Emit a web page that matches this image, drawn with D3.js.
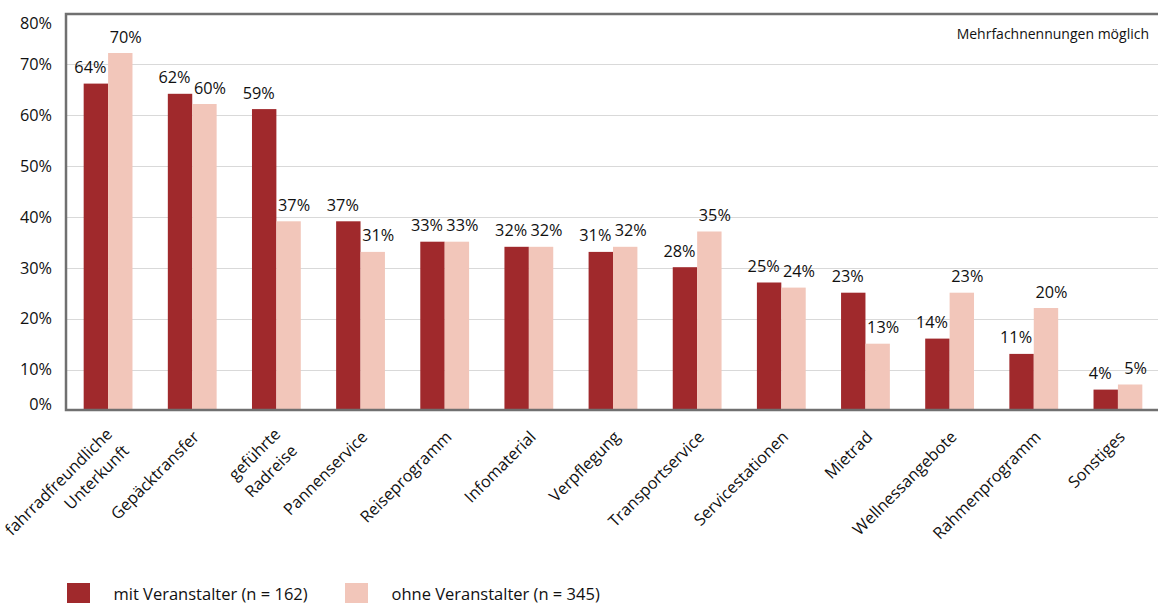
<!DOCTYPE html>
<html>
<head>
<meta charset="utf-8">
<script src="https://cdn.jsdelivr.net/npm/d3@7"></script>
<style>
  html, body { margin: 0; padding: 0; background: #fff; }
  svg { display: block; font-family: "Open Sans", "Noto Sans", sans-serif; }
</style>
</head>
<body>
<svg id="chart" width="1158" height="603"></svg>
<script>
// ---- data ----
const categories = [
  "fahrradfreundliche\nUnterkunft", "Gepäcktransfer", "geführte\nRadreise", "Pannenservice",
  "Reiseprogramm", "Infomaterial", "Verpflegung", "Transportservice", "Servicestationen",
  "Mietrad", "Wellnessangebote", "Rahmenprogramm", "Sonstiges"
];
const seriesNames = ["mit Veranstalter (n = 162)", "ohne Veranstalter (n = 345)"];
const mitVeranstalter  = [64, 62, 59, 37, 33, 32, 31, 28, 25, 23, 14, 11, 4];
const ohneVeranstalter = [70, 60, 37, 31, 33, 32, 32, 35, 24, 13, 23, 20, 5];
const yTicks = [0, 10, 20, 30, 40, 50, 60, 70, 80];
const note = "Mehrfachnennungen möglich";
const colors = ["#a0292c", "#f2c6ba"];

(function () {
// ---- layout ----
const svg = d3.select("#chart");
const pL = 66, pR = 1160, pT = 14, pB = 410;
const ink = "#111";

const x0 = d3.scaleBand().domain(d3.range(categories.length))
  .range([pL, pR]).paddingInner(0.42).paddingOuter(0.21);
const x1 = d3.scaleBand().domain([0, 1]).range([0, x0.bandwidth()]).padding(0);
const yBar = d3.scaleLinear().domain([0, 80]).range([pB, 2]);
const yAxis = d3.scaleLinear().domain([0, 80]).range([420.5, 13.6]);

// gridlines
svg.append("g").selectAll("line")
  .data(yTicks.filter(t => t > 0 && t < 80))
  .join("line")
  .attr("x1", pL).attr("x2", pR)
  .attr("y1", d => Math.round(yAxis(d)) + 0.5).attr("y2", d => Math.round(yAxis(d)) + 0.5)
  .attr("stroke", "#d9d9d9").attr("stroke-width", 1.2);

// y tick labels
svg.append("g").selectAll("text")
  .data(yTicks)
  .join("text")
  .attr("x", 52)
  .attr("y", d => Math.max(23, Math.min(404, yAxis(d))))
  .attr("dy", "0.35em")
  .attr("text-anchor", "end")
  .attr("font-size", 16.3)
  .attr("fill", ink)
  .text(d => d + "%");

// bars
const rows = categories.map((c, i) => ({ i, vals: [mitVeranstalter[i], ohneVeranstalter[i]] }));
const groups = svg.append("g").selectAll("g")
  .data(rows).join("g")
  .attr("transform", d => `translate(${x0(d.i)},0)`);

groups.selectAll("rect")
  .data(d => d.vals.map((v, k) => ({ v, k })))
  .join("rect")
  .attr("x", d => x1(d.k))
  .attr("width", x1.bandwidth())
  .attr("y", d => yBar(d.v))
  .attr("height", d => pB - yBar(d.v))
  .attr("fill", d => colors[d.k]);

// value labels
groups.selectAll("text")
  .data(d => d.vals.map((v, k) => ({ v, k })))
  .join("text")
  .attr("x", d => x1(d.k) + x1.bandwidth() / 2 + (d.k === 0 ? -5.5 : 5.5))
  .attr("y", d => yBar(d.v) - 10.5)
  .attr("text-anchor", "middle")
  .attr("font-size", 16.3)
  .attr("fill", ink)
  .text(d => d.v + "%");

// frame
svg.append("rect")
  .attr("x", pL).attr("y", pT)
  .attr("width", pR - pL).attr("height", pB - pT)
  .attr("fill", "none").attr("stroke", "#707070").attr("stroke-width", 2.5);

// note
svg.append("text")
  .attr("x", 1149).attr("y", 39)
  .attr("text-anchor", "end")
  .attr("font-size", 14)
  .attr("fill", ink)
  .text(note);

// category labels
const cat = svg.append("g").selectAll("text")
  .data(categories)
  .join("text")
  .attr("transform", (d, i) => `translate(${x0(i) + x0.bandwidth() / 2 + 4},434) rotate(-45)`)
  .attr("text-anchor", "end")
  .attr("font-size", 16.3)
  .attr("fill", ink);
cat.each(function (d) {
  const lines = d.split("\n");
  const t = d3.select(this);
  lines.forEach((ln, j) => {
    t.append("tspan")
      .attr("x", 0)
      .attr("dy", j === 0 ? (lines.length === 1 ? "0.35em" : "0.1em") : "1.45em")
      .text(ln);
  });
});

// legend
const legend = svg.append("g").selectAll("g")
  .data(seriesNames)
  .join("g")
  .attr("transform", (d, i) => `translate(${i === 0 ? 67 : 345},583)`);
legend.append("rect")
  .attr("width", 23).attr("height", 23)
  .attr("fill", (d, i) => colors[i]);
legend.append("text")
  .attr("x", 46.5).attr("y", 16.5)
  .attr("font-size", 16.5)
  .attr("fill", ink)
  .text(d => d);
})();
</script>
</body>
</html>
